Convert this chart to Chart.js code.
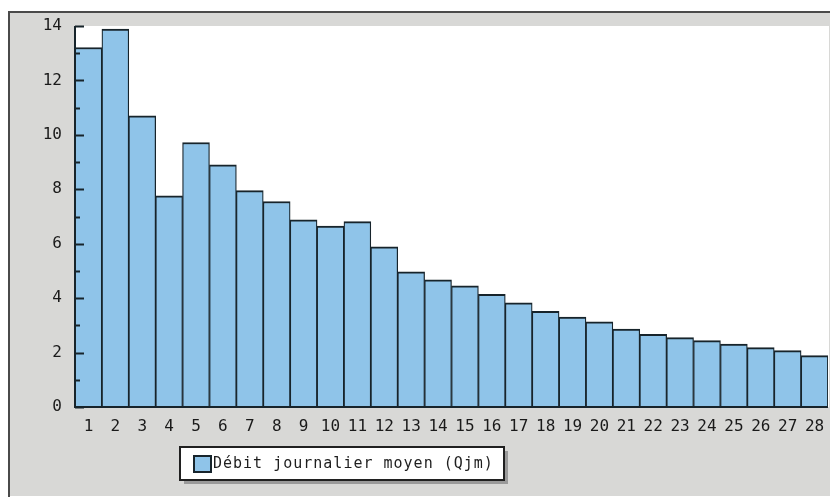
<!DOCTYPE html>
<html>
<head>
<meta charset="utf-8">
<script src="https://cdn.jsdelivr.net/npm/chart.js@4/dist/chart.umd.min.js"></script>
<style>
  html, body { margin: 0; padding: 0; background: #fff; }
  #wrap { width: 830px; height: 499px; }
</style>
</head>
<body>
<div id="wrap"><canvas id="debitChart"></canvas></div>
<script>
const jours = ['1', '2', '3', '4', '5', '6', '7', '8', '9', '10', '11', '12', '13', '14',
    '15', '16', '17', '18', '19', '20', '21', '22', '23', '24', '25', '26', '27', '28']
const debit = [13.21, 13.89, 10.70, 7.76, 9.72, 8.90, 7.95, 7.55, 6.88, 6.65, 6.81, 5.89, 4.97, 4.67,
    4.45, 4.14, 3.83, 3.52, 3.30, 3.13, 2.86, 2.67, 2.55, 2.44, 2.31, 2.18, 2.07, 1.89]
const legendLabel = 'Débit journalier moyen (Qjm)'

const barFill = '#8fc4e9'
const barLine = '#17242b'
const monoFont = "'DejaVu Sans Mono', 'Liberation Mono', monospace"

// grey panel, dark frame and white plot area behind everything
const panelPlugin = {
    id: 'panel',
    beforeDraw(chart) {
        const ctx = chart.ctx
        const area = chart.chartArea
        ctx.save()
        ctx.fillStyle = '#ffffff'
        ctx.fillRect(0, 0, chart.width, chart.height)
        ctx.fillStyle = '#d8d8d6'
        ctx.fillRect(9, 12, chart.width - 9, chart.height - 15)
        ctx.fillStyle = '#ffffff'
        ctx.fillRect(area.left, area.top, area.right - area.left + 1, area.bottom - area.top)
        ctx.strokeStyle = '#4a4a4a'
        ctx.lineWidth = 2
        ctx.beginPath()
        ctx.moveTo(9, chart.height - 2)
        ctx.lineTo(9, 12)
        ctx.lineTo(chart.width, 12)
        ctx.stroke()
        ctx.restore()
    }
}

// axis lines and inward tick marks drawn on top of the bars
const axisPlugin = {
    id: 'axisMarks',
    afterDatasetsDraw(chart) {
        const ctx = chart.ctx
        const area = chart.chartArea
        const y = chart.scales.y
        ctx.save()
        ctx.strokeStyle = barLine
        ctx.lineWidth = 2
        ctx.beginPath()
        ctx.moveTo(area.left, area.top)
        ctx.lineTo(area.left, area.bottom)
        ctx.lineTo(area.right, area.bottom)
        ctx.stroke()
        y.ticks.forEach((t) => {
            const py = Math.round(y.getPixelForValue(t.value)) + 0.5
            const len = t.value % 2 === 0 ? 9 : 5
            ctx.beginPath()
            ctx.moveTo(area.left, py)
            ctx.lineTo(area.left + len, py)
            ctx.stroke()
        })
        ctx.restore()
    }
}

// boxed legend under the axis
const legendPlugin = {
    id: 'boxLegend',
    afterDraw(chart) {
        const ctx = chart.ctx
        const bx = 180, by = 447, bw = 324, bh = 33
        ctx.save()
        ctx.fillStyle = '#9a9a9a'
        ctx.fillRect(bx + 4, by + 4, bw, bh)
        ctx.fillStyle = '#ffffff'
        ctx.fillRect(bx, by, bw, bh)
        ctx.strokeStyle = '#202020'
        ctx.lineWidth = 2
        ctx.strokeRect(bx, by, bw, bh)
        ctx.fillStyle = barFill
        ctx.fillRect(194, 456, 17, 16)
        ctx.strokeStyle = barLine
        ctx.lineWidth = 2
        ctx.strokeRect(194, 456, 17, 16)
        ctx.fillStyle = '#1e1e1e'
        ctx.font = '15px ' + monoFont
        ctx.letterSpacing = '1px'
        ctx.textBaseline = 'middle'
        ctx.fillText(legendLabel, 213, 464)
        ctx.restore()
    }
}

new Chart(document.getElementById('debitChart'), {
    type: 'bar',
    data: {
        labels: jours,
        datasets: [{
            label: legendLabel,
            data: debit,
            backgroundColor: barFill,
            borderColor: barLine,
            borderWidth: { top: 2, left: 1.25, right: 1.25, bottom: 0 },
            borderSkipped: false,
            barPercentage: 1,
            categoryPercentage: 1
        }]
    },
    options: {
        responsive: true,
        maintainAspectRatio: false,
        animation: false,
        layout: { padding: { top: 26, right: 2, left: 0, bottom: 0 } },
        plugins: {
            legend: { display: false },
            tooltip: { enabled: false }
        },
        scales: {
            x: {
                grid: { display: false, drawTicks: false },
                border: { display: false },
                ticks: {
                    color: '#1a1a1a',
                    padding: 10,
                    maxRotation: 0,
                    autoSkip: false,
                    font: { family: monoFont, size: 16 }
                },
                afterFit(scale) {
                    scale.height = 92
                    scale.paddingLeft = 0
                    scale.paddingRight = 0
                }
            },
            y: {
                min: 0,
                max: 14,
                grid: { display: false, drawTicks: false },
                border: { display: false },
                ticks: {
                    stepSize: 1,
                    color: '#1a1a1a',
                    padding: 13,
                    font: { family: monoFont, size: 16 },
                    callback: (v) => v % 2 === 0 ? v : ''
                },
                afterFit(scale) {
                    scale.width = 75
                    scale.paddingTop = 0
                    scale.paddingBottom = 0
                }
            }
        }
    },
    plugins: [panelPlugin, axisPlugin, legendPlugin]
});
</script>
</body>
</html>
